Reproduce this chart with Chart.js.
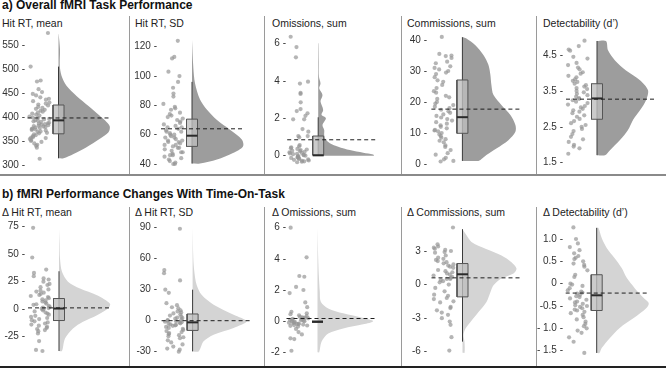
<!DOCTYPE html>
<html>
<head>
<meta charset="utf-8">
<script src="https://cdn.jsdelivr.net/npm/chart.js@4/dist/chart.umd.min.js"></script>
<style>
  body { margin: 0; width: 666px; height: 368px; position: relative; overflow: hidden; background: #fff;
         font-family: "Liberation Sans", Arial, sans-serif; }
  canvas { position: absolute; }
  .sec { position: absolute; left: 2px; font-size: 12px; line-height: 12px; font-weight: bold; color: #111; white-space: nowrap; }
  .ttl { position: absolute; font-size: 10.5px; line-height: 10.5px; color: #222; white-space: nowrap; }
  .vsep { position: absolute; width: 1px; background: #9a9a9a; }
  .hsep { position: absolute; left: 0; width: 666px; }
</style>
</head>
<body>
<div class="sec" style="top:-1px">a) Overall fMRI Task Performance</div>
<div class="sec" style="top:188px">b) fMRI Performance Changes With Time-On-Task</div>
<div class="hsep" style="top:174px;height:1.5px;background:#8a8a8a"></div>
<div class="hsep" style="top:366px;height:2px;background:#222"></div>
<script>
// ---------- values ----------
const titlesA = ['Hit RT, mean', 'Hit RT, SD', 'Omissions, sum', 'Commissions, sum', 'Detectability (d\u2019)'];
const titlesB = ['\u0394 Hit RT, mean', '\u0394 Hit RT, SD', '\u0394 Omissions, sum', '\u0394 Commissions, sum', '\u0394 Detectability (d\u2019)'];

// a) overall performance
const hitRtMean = [575, 505, 476, 474, 458, 452, 448, 445, 441, 438, 436, 433, 430, 428, 426, 424, 421, 419, 417, 415, 413, 411, 409, 407, 405, 403, 401, 399, 398, 396, 395, 393, 392, 391, 390, 388, 387, 386, 385, 384, 383, 382, 381, 380, 379, 378, 377, 376, 375, 374, 373, 372, 370, 369, 367, 366, 364, 362, 360, 358, 357, 356, 354, 352, 350, 348, 345, 342, 340, 336, 313];
const hitRtMeanBox = [314, 365, 393, 425, 505];          // lower whisker, q1, median, q3, upper whisker
const hitRtMeanAvg = 398;
const hitRtMeanDensY = [314, 323, 337, 354, 368, 382, 403, 423, 444, 465, 486, 506, 541, 576];
const hitRtMeanDensW = [5, 15, 28, 41, 50, 51, 41, 30, 18, 8, 3, 1.3, 1.5, 0];
const hitRtMeanTicks = [300, 350, 400, 450, 500, 550];

const hitRtSd = [124, 113, 112, 103, 100, 96, 92, 88, 86, 81, 79, 78, 77, 75, 74, 73, 72, 71, 70, 69, 68, 67, 66, 65, 65, 64, 63, 62, 62, 61, 60, 60, 59, 58, 58, 57, 56, 56, 55, 55, 54, 53, 53, 52, 51, 51, 50, 49, 48, 48, 47, 46, 46, 45, 44, 43, 42, 41, 40, 40];
const hitRtSdBox = [40.3, 52, 59.3, 70.6, 96];
const hitRtSdAvg = 64;
const hitRtSdDensY = [40.3, 43, 47.5, 52, 56.6, 63.4, 70, 77, 84, 95, 106, 124.5];
const hitRtSdDensW = [8, 25, 41, 51, 50, 38, 25, 15, 8, 3, 1.3, 0];
const hitRtSdTicks = [40, 60, 80, 100, 120];

const omissions = [6.35, 5.8, 5.25, 3.95, 3.85, 3.35, 3.3, 2.85, 2.49, 2.38, 2.26, 2.13, 1.94, 1.94, 1.42, 1.28, 1.05, 1.05, 0.98, 0.57, 0.5, 0.45, 0.4, 0.36, 0.33, 0.3, 0.27, 0.24, 0.21, 0.18, 0.15, 0.12, 0.1, 0.08, 0.05, 0.03, 0.0, -0.02, -0.05, -0.07, -0.1, -0.12, -0.15, -0.17, -0.2, -0.22, -0.25, -0.27, -0.3, -0.32, -0.35];
const omissionsBox = [0, 0.03, 0.02, 1.05, 2.05];
const omissionsAvg = 0.85;
const omissionsDensY = [0, 0.07, 0.16, 0.3, 0.48, 0.66, 0.9, 1.1, 1.37, 1.64, 2.0, 2.18, 2.44, 2.9, 3.24, 3.6, 3.86, 4.2, 5, 6];
const omissionsDensW = [55.7, 55, 45, 31.7, 20, 11.7, 7, 6, 6, 4.3, 7.7, 3.3, 5, 2.3, 4.3, 1, 2.3, 0.8, 0.6, 0.3];
const omissionsTicks = [0, 2, 4, 6];

const commissions = [41, 35.5, 35, 34.8, 34.2, 33, 32.5, 31.5, 31, 30.5, 30, 29.5, 29, 28, 27, 26.5, 25.5, 24.5, 23.5, 23, 22, 21.5, 21, 20, 19.5, 19, 18.5, 18, 17.5, 17, 16.5, 16, 15.5, 15, 14.5, 14, 13.5, 13, 12.5, 12, 11.5, 11, 10.8, 10.5, 10, 9.5, 9, 8.5, 8, 7.5, 7, 6, 5.5, 4.5, 3.5, 3, 2, 1.5, 1, 0.8];
const commissionsBox = [1, 9.9, 15.1, 27.1, 40.9];
const commissionsAvg = 17.7;
const commissionsDensY = [1, 1.3, 2.9, 5, 7.7, 10.4, 12.6, 15.8, 19, 22.3, 25.5, 28.7, 32, 35.2, 38.4, 40.5, 41];
const commissionsDensW = [16, 18, 24, 34, 46, 53, 53, 48, 39, 31, 29, 28, 26, 21, 12.7, 4, 0];
const commissionsTicks = [0, 10, 20, 30, 40];

const detect = [4.9, 4.75, 4.65, 4.62, 4.45, 4.4, 4.28, 4.22, 4.15, 4.1, 4.02, 3.98, 3.92, 3.88, 3.82, 3.78, 3.75, 3.7, 3.66, 3.62, 3.58, 3.55, 3.5, 3.46, 3.42, 3.38, 3.34, 3.3, 3.28, 3.24, 3.2, 3.16, 3.12, 3.08, 3.04, 3.0, 2.96, 2.92, 2.88, 2.82, 2.78, 2.72, 2.66, 2.6, 2.55, 2.5, 2.44, 2.38, 2.3, 2.22, 2.15, 2.08, 2.0, 1.95, 1.9, 1.75];
const detectBox = [1.71, 2.71, 3.29, 3.70, 4.89];
const detectAvg = 3.27;
const detectDensY = [1.71, 1.85, 2.13, 2.41, 2.69, 2.96, 3.24, 3.52, 3.8, 4.07, 4.35, 4.63, 4.89];
const detectDensW = [8, 13, 23, 31, 36, 43, 49, 51, 43, 29, 18, 11, 9];
const detectTicks = [1.5, 2.5, 3.5, 4.5];

// b) change with time-on-task
const dHitRtMean = [74, 47, 36, 33, 30, 28, 27, 25, 23, 22, 20, 18, 17, 16, 15, 14, 13, 12, 11, 10, 9, 8, 7, 6, 5, 4.5, 4, 3, 2, 1.5, 1, 0.5, 0, -1, -2, -3, -4, -5, -6, -7, -8, -9, -10, -11, -12, -13, -14, -15, -16, -17, -18, -19, -20, -22, -29, -37, -38];
const dHitRtMeanBox = [-38, -10.3, 0.6, 9.7, 34.5];
const dHitRtMeanAvg = 1.2;
const dHitRtMeanDensY = [-38, -26.7, -17.6, -11.5, -5.5, 0.6, 5, 12.7, 18.8, 25, 34, 46, 60, 73];
const dHitRtMeanDensW = [3, 6, 14, 24, 38, 49, 51, 38, 21, 9, 3, 1, 0.5, 0];
const dHitRtMeanTicks = [-25, 0, 25, 50, 75];

const dHitRtSd = [89, 49, 46, 39, 30, 27, 17, 15, 13, 12, 10, 9, 8, 7, 6, 5, 4, 3, 2.5, 2, 1, 0.5, 0, -0.5, -1, -1.5, -2, -2.5, -3, -3.5, -4, -4.5, -5, -6, -7, -8, -9, -10, -11, -12, -13, -14, -15, -16, -17, -19, -21, -23, -25, -27, -28, -30];
const dHitRtSdBox = [-29.7, -9.4, -1.6, 6.5, 30];
const dHitRtSdAvg = 0;
const dHitRtSdDensY = [-29.7, -20, -13.5, -7, -0.6, 5.8, 15.5, 25, 34.8, 47.7, 60.6, 89.7];
const dHitRtSdDensW = [6, 11, 21, 41, 54, 41, 21, 9, 4, 1.7, 0.7, 0];
const dHitRtSdTicks = [-30, 0, 30, 60, 90];

const dOmissions = [6.0, 4.1, 2.9, 2.85, 2.2, 2.0, 1.8, 1.2, 0.9, 0.6, 0.5, 0.45, 0.38, 0.32, 0.28, 0.25, 0.22, 0.2, 0.18, 0.15, 0.12, 0.1, 0.08, 0.05, 0.03, 0.0, -0.02, -0.05, -0.08, -0.1, -0.12, -0.15, -0.18, -0.2, -0.22, -0.25, -0.28, -0.3, -0.35, -0.5, -0.7, -0.85, -1.1, -1.15, -1.9];
const dOmissionsBox = [0, 0, -0.05, 0, 0];
const dOmissionsAvg = 0.17;
const dOmissionsDensY = [-2.0, -1.33, -0.8, -0.47, -0.2, 0, 0.2, 0.5, 0.82, 1.25, 1.9, 2.97, 4.04, 6];
const dOmissionsDensW = [1.7, 4, 10.7, 25.7, 45.7, 55.7, 45.7, 25.7, 10.7, 3.3, 2.3, 1.3, 0.7, 0];
const dOmissionsTicks = [-2, 0, 2, 4, 6];

const dCommissions = [5.1, 3.6, 3.4, 3.3, 3.2, 3.1, 3.0, 2.9, 2.85, 2.6, 2.4, 2.3, 2.2, 2.1, 2.0, 1.9, 1.8, 1.7, 1.6, 1.5, 1.3, 1.2, 1.1, 1.0, 0.9, 0.8, 0.7, 0.6, 0.5, 0.5, 0.4, 0.3, 0.2, 0.0, -0.3, -0.6, -0.9, -1.0, -1.2, -1.3, -1.5, -1.6, -2.0, -2.1, -2.3, -2.5, -2.7, -3.0, -3.3, -3.6, -4.7, -5.9];
const dCommissionsBox = [-5.1, -1.1, 0.92, 1.88, 4.95];
const dCommissionsAvg = 0.6;
const dCommissionsDensY = [-6.1, -5.1, -4.5, -3.93, -3.34, -2.45, -1.55, -0.66, -0.06, 0.54, 0.98, 1.43, 2.0, 2.6, 3.2, 3.8, 4.4, 4.94];
const dCommissionsDensW = [2, 2, 1, 3, 8, 16, 24, 28, 31, 39, 51, 54, 49, 39, 23, 9, 4, 0];
const dCommissionsTicks = [-6, -3, 0, 3];

const dDetect = [1.26, 1.0, 0.9, 0.82, 0.75, 0.68, 0.62, 0.58, 0.55, 0.5, 0.45, 0.42, 0.38, 0.3, 0.2, 0.15, 0.0, -0.02, -0.05, -0.1, -0.15, -0.18, -0.2, -0.22, -0.25, -0.28, -0.3, -0.33, -0.36, -0.4, -0.42, -0.45, -0.48, -0.5, -0.52, -0.55, -0.58, -0.6, -0.63, -0.66, -0.7, -0.75, -0.8, -0.85, -0.9, -0.95, -1.0, -1.05, -1.1, -1.2, -1.3, -1.55];
const dDetectBox = [-1.55, -0.6, -0.26, 0.2, 1.25];
const dDetectAvg = -0.21;
const dDetectDensY = [-1.55, -1.44, -1.22, -0.99, -0.77, -0.54, -0.43, -0.32, -0.1, 0.13, 0.35, 0.57, 0.8, 1.02, 1.25];
const dDetectDensW = [2.7, 5, 13, 23, 37, 50, 52, 47, 38, 30, 25, 18, 10, 5, 1.7];
const dDetectTicks = [-1.5, -1.0, -0.5, 0, 0.5, 1.0];
const dDetectTickLabels = ['- 1.5', '- 1.0', '-0.5', '0', '0.5', '1.0'];

// ---------- layout ----------
const rows = [
  { top: 28, h: 146, sepTop: 16, sepH: 158, titleTop: 18, violin: '#9d9d9d' },
  { top: 217, h: 149, sepTop: 207, sepH: 159, titleTop: 207, violin: '#d4d4d4' }
];
const cols = [
  { left: 0, width: 129, tickEnd: 25, titleX: 2 },
  { left: 130, width: 134, tickEnd: 157, titleX: 135 },
  { left: 265, width: 136, tickEnd: 286, titleX: 272 },
  { left: 402, width: 134, tickEnd: 427, titleX: 407 },
  { left: 537, width: 129, tickEnd: 563, titleX: 543 }
];
const place = [
  { c: 58.5, cal: [550, 45, 300, 165], dashEnd: 53 },
  { c: 192, cal: [120, 46.7, 40, 164], dashEnd: 53 },
  { c: 318.2, cal: [6, 43.3, 0, 155.7], dashEnd: 57 },
  { c: 462.4, cal: [40, 40, 0, 164], dashEnd: 60 },
  { c: 597, cal: [4.5, 55, 1.5, 162.7], dashEnd: 59 },
  { c: 59, cal: [75, 226.7, -25, 336.7], dashEnd: 53 },
  { c: 192.6, cal: [90, 227.7, -30, 351.7], dashEnd: 59 },
  { c: 317.5, cal: [6, 227.7, -2, 352.3], dashEnd: 57 },
  { c: 462.5, cal: [3, 251, -6, 351.7], dashEnd: 58 },
  { c: 596.7, cal: [1.0, 239, -1.5, 350.7], dashEnd: 53 }
];

const panels = [
  { title: titlesA[0], pts: hitRtMean, box: hitRtMeanBox, avg: hitRtMeanAvg, dy: hitRtMeanDensY, dw: hitRtMeanDensW, ticks: hitRtMeanTicks },
  { title: titlesA[1], pts: hitRtSd, box: hitRtSdBox, avg: hitRtSdAvg, dy: hitRtSdDensY, dw: hitRtSdDensW, ticks: hitRtSdTicks },
  { title: titlesA[2], pts: omissions, box: omissionsBox, avg: omissionsAvg, dy: omissionsDensY, dw: omissionsDensW, ticks: omissionsTicks },
  { title: titlesA[3], pts: commissions, box: commissionsBox, avg: commissionsAvg, dy: commissionsDensY, dw: commissionsDensW, ticks: commissionsTicks },
  { title: titlesA[4], pts: detect, box: detectBox, avg: detectAvg, dy: detectDensY, dw: detectDensW, ticks: detectTicks },
  { title: titlesB[0], pts: dHitRtMean, box: dHitRtMeanBox, avg: dHitRtMeanAvg, dy: dHitRtMeanDensY, dw: dHitRtMeanDensW, ticks: dHitRtMeanTicks },
  { title: titlesB[1], pts: dHitRtSd, box: dHitRtSdBox, avg: dHitRtSdAvg, dy: dHitRtSdDensY, dw: dHitRtSdDensW, ticks: dHitRtSdTicks },
  { title: titlesB[2], pts: dOmissions, box: dOmissionsBox, avg: dOmissionsAvg, dy: dOmissionsDensY, dw: dOmissionsDensW, ticks: dOmissionsTicks },
  { title: titlesB[3], pts: dCommissions, box: dCommissionsBox, avg: dCommissionsAvg, dy: dCommissionsDensY, dw: dCommissionsDensW, ticks: dCommissionsTicks },
  { title: titlesB[4], pts: dDetect, box: dDetectBox, avg: dDetectAvg, dy: dDetectDensY, dw: dDetectDensW, ticks: dDetectTicks, labels: dDetectTickLabels }
];

Chart.defaults.font.family = '"Liberation Sans", Arial, sans-serif';
Chart.defaults.animation = false;

const BOX_HALF = 5.5;

// horizontal spread of the raw points (fixed hash, so the picture is the same each run)
function jitter(i, k) {
  const s = Math.sin((i + 1) * 12.9898 + k * 78.233) * 43758.5453;
  return -29 + 20 * (s - Math.floor(s));
}

function addDiv(cls, style, text) {
  const d = document.createElement('div');
  d.className = cls;
  Object.assign(d.style, style);
  if (text) d.textContent = text;
  document.body.appendChild(d);
}

// separators and panel titles
rows.forEach((row, r) => {
  cols.forEach((col, i) => {
    if (i > 0) addDiv('vsep', { left: (col.left - 1) + 'px', top: row.sepTop + 'px', height: row.sepH + 'px' });
    addDiv('ttl', { left: col.titleX + 'px', top: row.titleTop + 'px' }, panels[r * 5 + i].title);
  });
});

function buildPanel(p, idx) {
  const row = rows[Math.floor(idx / 5)];
  const col = cols[idx % 5];
  const pl = place[idx];
  const [q0, q1, med, q3, q4] = p.box;

  const cv = document.createElement('canvas');
  cv.width = col.width; cv.height = row.h;
  cv.style.left = col.left + 'px'; cv.style.top = row.top + 'px';
  cv.style.width = col.width + 'px'; cv.style.height = row.h + 'px';
  document.body.appendChild(cv);

  // jittered raw points to the left of the box
  const raw = p.pts.map((v, i) => ({ x: jitter(i, idx), y: v }));
  // half violin to the right of the box centre
  const cloud = [{ x: 0, y: p.dy[0] }]
    .concat(p.dy.map((y, i) => ({ x: p.dw[i], y: y })))
    .concat([{ x: 0, y: p.dy[p.dy.length - 1] }]);
  const boxPoly = [
    { x: -BOX_HALF, y: q1 }, { x: BOX_HALF, y: q1 }, { x: BOX_HALF, y: q3 },
    { x: -BOX_HALF, y: q3 }, { x: -BOX_HALF, y: q1 }
  ];
  const line = { showLine: true, pointRadius: 0, clip: false, fill: false };

  const chart = new Chart(cv, {
    type: 'scatter',
    data: {
      datasets: [
        Object.assign({}, line, { data: [{ x: -31, y: p.avg }, { x: pl.dashEnd, y: p.avg }],
          borderColor: '#1e1e1e', borderWidth: 1, borderDash: [4, 3] }),
        Object.assign({}, line, { data: [{ x: -BOX_HALF, y: med }, { x: BOX_HALF, y: med }],
          borderColor: '#2a2a2a', borderWidth: 2 }),
        Object.assign({}, line, { data: boxPoly, fill: 'shape',
          backgroundColor: 'rgba(190,190,190,0.8)', borderColor: '#555', borderWidth: 1 }),
        Object.assign({}, line, { data: [{ x: 0, y: q0 }, { x: 0, y: q4 }],
          borderColor: '#3a3a3a', borderWidth: 1 }),
        Object.assign({}, line, { data: cloud, fill: 'shape', tension: 0.3,
          backgroundColor: row.violin, borderColor: 'rgba(0,0,0,0)', borderWidth: 0 }),
        { data: raw, showLine: false, pointRadius: 2.1, pointBorderWidth: 0, clip: false,
          backgroundColor: 'rgba(150,150,150,0.7)' }
      ]
    },
    options: {
      responsive: false,
      maintainAspectRatio: false,
      events: [],
      layout: { padding: 0 },
      plugins: { legend: { display: false }, tooltip: { enabled: false } },
      scales: {
        x: { type: 'linear', display: false, min: col.left - pl.c, max: col.left + col.width - pl.c },
        y: {
          type: 'linear',
          min: Math.min(...p.ticks) - 1, max: Math.max(...p.ticks) + 1,
          grid: { display: false, drawTicks: false },
          border: { display: false },
          afterFit: s => { s.width = col.tickEnd - col.left; },
          afterBuildTicks: s => { s.ticks = p.ticks.map(v => ({ value: v })); },
          ticks: {
            autoSkip: false, padding: 0, color: '#333', font: { size: 10 },
            callback: (v, i) => (p.labels ? p.labels[i] : String(p.ticks[i])) + ' -'
          }
        }
      }
    }
  });

  // second pass: pin the value scale to the tick positions
  const a = chart.chartArea;
  const [v1, p1, v2, p2] = pl.cal;
  const perPx = (v2 - v1) / (p2 - p1);
  const valAt = px => v1 + (px + row.top - p1) * perPx;
  chart.options.scales.y.min = valAt(a.bottom);
  chart.options.scales.y.max = valAt(a.top);
  chart.options.scales.x.min = col.left + a.left - pl.c;
  chart.options.scales.x.max = col.left + a.right - pl.c;
  chart.update('none');
}

panels.forEach(buildPanel);
</script>
</body>
</html>
